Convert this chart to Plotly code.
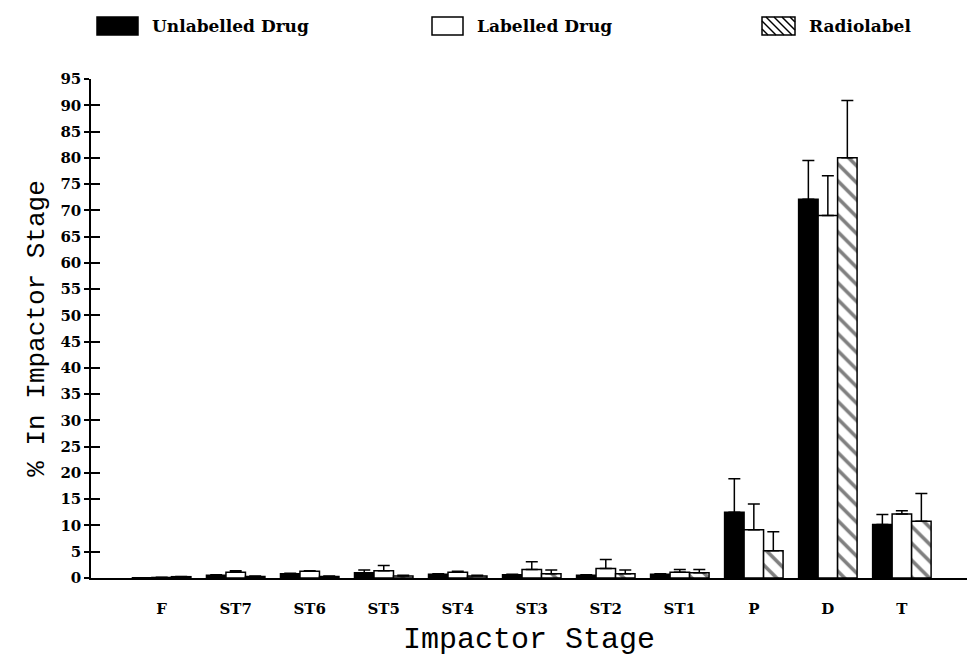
import plotly.graph_objects as go

# Cascade impactor deposition (% of dose in each stage)
stages = ["F", "ST7", "ST6", "ST5", "ST4", "ST3", "ST2", "ST1", "P", "D", "T"]

unlabelled = [0.05, 0.5, 0.8, 1.0, 0.7, 0.6, 0.5, 0.7, 12.5, 72.1, 10.2]
unlabelled_err = [0.0, 0.1, 0.1, 0.5, 0.1, 0.1, 0.1, 0.1, 6.4, 7.4, 1.9]

labelled = [0.1, 1.1, 1.3, 1.4, 1.1, 1.6, 1.8, 1.1, 9.2, 69.0, 12.2]
labelled_err = [0.05, 0.3, 0.1, 1.0, 0.2, 1.5, 1.7, 0.5, 4.9, 7.6, 0.6]

radiolabel = [0.25, 0.3, 0.3, 0.4, 0.4, 0.8, 0.8, 1.0, 5.2, 80.0, 10.8]
radiolabel_err = [0.05, 0.1, 0.1, 0.1, 0.1, 0.7, 0.7, 0.6, 3.6, 10.9, 5.3]

y_ticks = list(range(0, 100, 5))

W, H = 967, 657
ML, MR, MT, MB = 91, 0, 79, 79
PW, PH = W - ML - MR, H - MT - MB


def px(x):
    return (x - ML) / PW


def py(y):
    return (H - MB - y) / PH


def err(vals):
    return dict(type="data", array=vals, arrayminus=[0] * len(vals), symmetric=False,
                color="black", thickness=1.5, width=6)


line = dict(color="black", width=1.5)

fig = go.Figure()
fig.add_trace(go.Bar(x=stages, y=unlabelled, name="Unlabelled Drug", error_y=err(unlabelled_err),
                     marker=dict(color="black", line=line), showlegend=False))
fig.add_trace(go.Bar(x=stages, y=labelled, name="Labelled Drug", error_y=err(labelled_err),
                     marker=dict(color="white", line=line), showlegend=False))
fig.add_trace(go.Bar(x=stages, y=radiolabel, name="Radiolabel", error_y=err(radiolabel_err),
                     marker=dict(color="white", line=line,
                                 pattern=dict(shape="\\", fgcolor="black", bgcolor="white",
                                              size=12, solidity=0.3)),
                     showlegend=False))

# Inward half of the crossing y ticks
fig.add_trace(go.Scatter(x=[None], y=[None], yaxis="y2", showlegend=False, hoverinfo="skip"))

shapes = []
annotations = []

# Legend drawn as boxes and labels above the plot
legend_items = [
    ("Unlabelled Drug", 97, 138, "black", False),
    ("Labelled Drug", 432, 463, "white", False),
    ("Radiolabel", 762, 795, "white", True),
]
top, bottom = 17, 35
for label, x0, x1, fill, hatched in legend_items:
    shapes.append(dict(type="rect", xref="paper", yref="paper",
                       x0=px(x0), x1=px(x1), y0=py(bottom), y1=py(top),
                       fillcolor=fill, line=dict(color="black", width=1.5)))
    if hatched:
        h = bottom - top
        for s in range(-12, x1 - x0, 8):
            ax, bx = x0 + s, x0 + s + h
            ay, by = top, bottom
            if ax < x0:
                ay = top + (x0 - ax)
                ax = x0
            if bx > x1:
                by = bottom - (bx - x1)
                bx = x1
            if by <= ay:
                continue
            shapes.append(dict(type="line", xref="paper", yref="paper",
                               x0=px(ax), y0=py(ay), x1=px(bx), y1=py(by),
                               line=dict(color="black", width=1.5)))
    annotations.append(dict(text=label, xref="paper", yref="paper",
                            x=px(x1 + 12), y=py((top + bottom) / 2), xanchor="left",
                            yanchor="middle", showarrow=False,
                            font=dict(family="DejaVu Serif", size=17, color="black", weight="bold")))

fig.update_layout(
    width=W, height=H,
    margin=dict(l=ML, r=MR, t=MT, b=MB),
    paper_bgcolor="white", plot_bgcolor="white",
    barmode="group", bargap=0.21, bargroupgap=0,
    shapes=shapes, annotations=annotations,
    xaxis=dict(
        range=[-0.955, 10.88], showgrid=False, zeroline=False,
        showline=True, linecolor="black", linewidth=1.5, ticks="",
        ticklabelstandoff=16,
        tickfont=dict(family="DejaVu Serif", size=15, color="black", weight="bold"),
        title=dict(text="Impactor Stage", standoff=16,
                   font=dict(family="Liberation Mono", size=30, color="black")),
    ),
    yaxis=dict(
        range=[0, 95], tickvals=y_ticks, showgrid=False, zeroline=False,
        showline=True, linecolor="black", linewidth=1.5,
        ticks="outside", ticklen=5, tickwidth=1.5, tickcolor="black",
        tickfont=dict(family="DejaVu Serif", size=15, color="black", weight="bold"),
        title=dict(text="% In Impactor Stage", standoff=8,
                   font=dict(family="Liberation Mono", size=26, color="black")),
    ),
    yaxis2=dict(
        range=[0, 95], tickvals=y_ticks, overlaying="y", side="left",
        showgrid=False, zeroline=False, showticklabels=False,
        ticks="inside", ticklen=9, tickwidth=1.5, tickcolor="black",
    ),
)

fig.write_html("out.html")
